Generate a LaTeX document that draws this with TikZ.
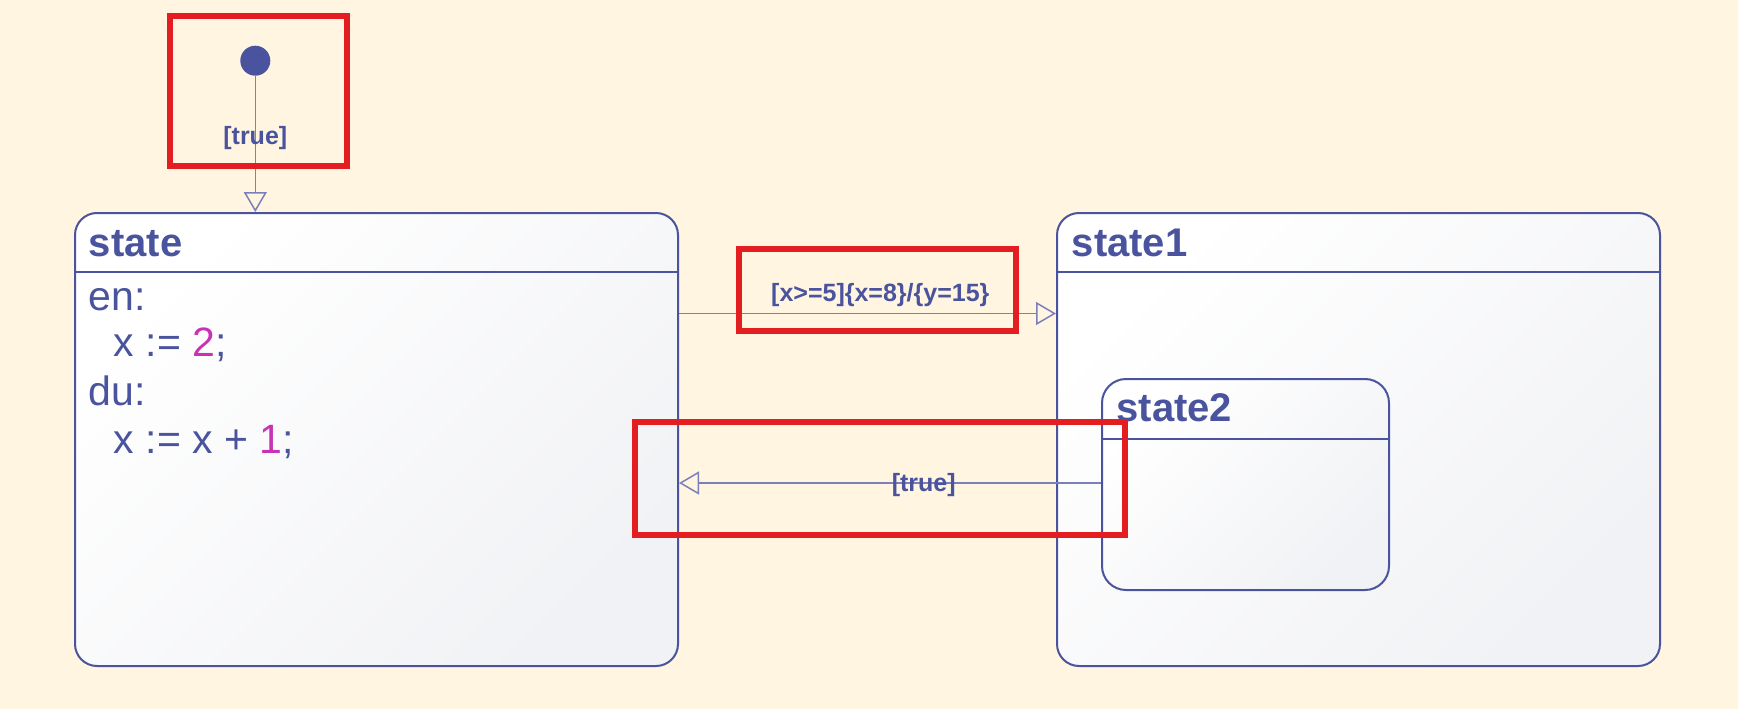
\documentclass[tikz,border=0pt]{standalone}
\usepackage{fontspec}
\setmainfont{Liberation Sans}
\usetikzlibrary{arrows.meta}
\definecolor{bgc}{HTML}{FFF5E1}
\definecolor{ink}{HTML}{4A549E}
\definecolor{trc}{HTML}{7A80BC}
\definecolor{num}{HTML}{C832B4}
\definecolor{hl}{HTML}{E41E20}
\definecolor{fillA}{HTML}{FFFFFF}
\definecolor{fillB}{HTML}{F1F2F5}
\begin{document}
\begin{tikzpicture}[x=1pt,y=-1pt,
  statebox/.style={draw=ink, line width=2pt, rounded corners=22pt,
    top color=fillA, bottom color=fillB, shading angle=45,
    anchor=north west, inner sep=0pt},
  hdr/.style={draw=ink, line width=2pt},
  titletext/.style={font=\fontsize{40}{48}\selectfont\bfseries, text=ink, anchor=base west, inner sep=0pt},
  bodytext/.style={font=\fontsize{41}{48}\selectfont, text=ink, anchor=base west, inner sep=0pt},
  trans/.style={draw=trc, line width=1.5pt, -{Triangle[open, length=20pt, width=23pt, line width=1.5pt]}},
  lbl/.style={font=\fontsize{25}{30}\selectfont\bfseries, text=ink, inner sep=0pt, anchor=base},
  hlbox/.style={draw=hl, line width=6pt}
]
\useasboundingbox (0,0) rectangle (1738,709);
\fill[bgc] (0,0) rectangle (1738,709);

% states
\node[statebox, minimum width=603pt, minimum height=453pt] (state) at (74,212) {};
\node[statebox, minimum width=603pt, minimum height=453pt] (state1) at (1056,212) {};
\node[statebox, minimum width=287pt, minimum height=211pt, rounded corners=24pt] (state2) at (1101,378) {};

% header separators
\coordinate (h0) at (0,272);
\coordinate (h2) at (0,438.5);
\draw[hdr] (state.west |- h0) -- (state.east |- h0);
\draw[hdr] (state1.west |- h0) -- (state1.east |- h0);
\draw[hdr] (state2.west |- h2) -- (state2.east |- h2);

% titles
\node[titletext] (tstate) at (88.7,256.7) {state};
\node[titletext] (tstate1) at (1071.6,256.7) {state1};
\node[titletext] (tstate2) at (1116.3,421.7) {state2};

% body of state
\node[bodytext] (en) at (88.7,310) {en:};
\node[bodytext] (enx) at (113.6,356.7) {x := {\color{num}2};};
\node[bodytext] (du) at (88.7,405) {du:};
\node[bodytext] (dux) at (113.6,453.3) {x := x + {\color{num}1};};

% initial pseudo-state
\node[circle, fill=ink, minimum size=30pt, inner sep=0pt] (init) at (255.3,60.7) {};
\draw[trans] (init) -- (init |- state.north)
  node[lbl, pos=0.507] (l0) {[true]};

% transitions
\coordinate (t1) at (0,313.5);
\draw[trans] (state.east |- t1) -- (state1.west |- t1)
  node[lbl, pos=0.534, yshift=12.5pt] (l1) {[x>=5]\{x=8\}/\{y=15\}};
\coordinate (t2) at (0,483);
\draw[trans] (state2.west |- t2) -- (state.east |- t2)
  node[lbl, pos=0.42, yshift=-8pt] (l2) {[true]};

% highlight boxes
\draw[hlbox] (169.7,16.3) rectangle (347.2,166.3);
\draw[hlbox] (738.8,248.7) rectangle (1016.3,331.3);
\draw[hlbox] (635.3,422) rectangle (1125.3,535.3);
\end{tikzpicture}
\end{document}
